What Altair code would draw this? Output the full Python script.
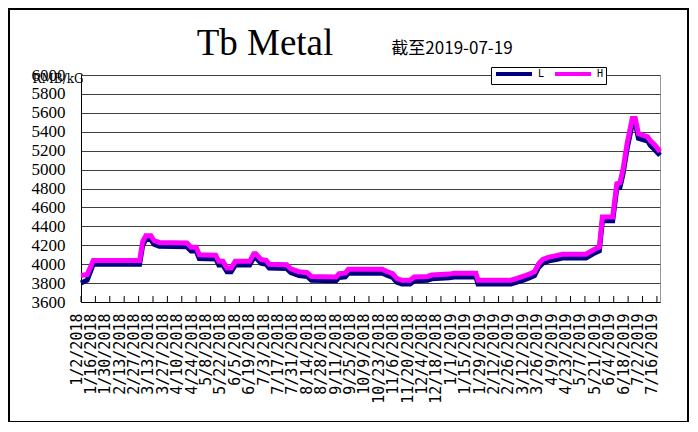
import altair as alt
import pandas as pd

# ---- data ----
dates = [
    "2018-01-02", "2018-01-08", "2018-01-14", "2018-02-28", "2018-03-03", "2018-03-06",
    "2018-03-11", "2018-03-14", "2018-03-19", "2018-04-15", "2018-04-19", "2018-04-24",
    "2018-04-27", "2018-05-13", "2018-05-16", "2018-05-20", "2018-05-24", "2018-05-28",
    "2018-06-01", "2018-06-15", "2018-06-19", "2018-06-21", "2018-06-26", "2018-07-01",
    "2018-07-04", "2018-07-21", "2018-07-25", "2018-08-02", "2018-08-10", "2018-08-14",
    "2018-09-07", "2018-09-10", "2018-09-16", "2018-09-19", "2018-10-22", "2018-10-27",
    "2018-11-01", "2018-11-05", "2018-11-10", "2018-11-18", "2018-11-22", "2018-12-05",
    "2018-12-09", "2018-12-26", "2018-12-31", "2019-01-21", "2019-01-23", "2019-02-24",
    "2019-03-02", "2019-03-09", "2019-03-15", "2019-03-19", "2019-03-23", "2019-03-27",
    "2019-04-02", "2019-04-09", "2019-04-15", "2019-05-08", "2019-05-15", "2019-05-21",
    "2019-05-24", "2019-06-03", "2019-06-07", "2019-06-10", "2019-06-13", "2019-06-17",
    "2019-06-22", "2019-06-25", "2019-06-28", "2019-07-07", "2019-07-10", "2019-07-14",
    "2019-07-19",
]
high = [
    3880, 3890, 4040, 4040, 4240, 4300,
    4300, 4250, 4230, 4225, 4180, 4180,
    4100, 4095, 4030, 4030, 3960, 3960,
    4030, 4030, 4110, 4110, 4050, 4040,
    4000, 3995, 3950, 3920, 3910, 3870,
    3865, 3900, 3905, 3945, 3945, 3920,
    3900, 3850, 3830, 3830, 3865, 3870,
    3885, 3895, 3905, 3905, 3830, 3830,
    3850, 3875, 3900, 3920, 4005, 4050,
    4075, 4090, 4105, 4105, 4150, 4180,
    4500, 4500, 4850, 4860, 5000, 5275,
    5540, 5540, 5380, 5345, 5300, 5260,
    5190,
]
low = [
    3800, 3830, 4000, 4000, 4200, 4260,
    4260, 4210, 4190, 4185, 4140, 4140,
    4060, 4055, 3990, 3990, 3920, 3920,
    3990, 3990, 4070, 4070, 4010, 4000,
    3960, 3955, 3910, 3880, 3870, 3830,
    3825, 3860, 3865, 3905, 3905, 3880,
    3860, 3810, 3790, 3790, 3825, 3830,
    3845, 3855, 3865, 3865, 3790, 3790,
    3810, 3835, 3860, 3880, 3965, 4010,
    4035, 4050, 4065, 4065, 4110, 4140,
    4460, 4460, 4800, 4810, 4950, 5220,
    5480, 5490, 5330, 5300, 5250, 5210,
    5150,
]
series_names = ["L", "H"]
series_colors = ["#000080", "#FF00FF"]

tick_labels = [
    "1/2/2018", "1/16/2018", "1/30/2018", "2/13/2018", "2/27/2018", "3/13/2018",
    "3/27/2018", "4/10/2018", "4/24/2018", "5/8/2018", "5/22/2018", "6/5/2018",
    "6/19/2018", "7/3/2018", "7/17/2018", "7/31/2018", "8/14/2018", "8/28/2018",
    "9/11/2018", "9/25/2018", "10/9/2018", "10/23/2018", "11/6/2018", "11/20/2018",
    "12/4/2018", "12/18/2018", "1/1/2019", "1/15/2019", "1/29/2019", "2/12/2019",
    "2/26/2019", "3/12/2019", "3/26/2019", "4/9/2019", "4/23/2019", "5/7/2019",
    "5/21/2019", "6/4/2019", "6/18/2019", "7/2/2019", "7/16/2019",
]
y_ticks = [3600, 3800, 4000, 4200, 4400, 4600, 4800, 5000, 5200, 5400, 5600, 5800, 6000]

title_text = "Tb Metal"
subtitle_text = "截至2019-07-19"
unit_text = "RMB/kG"

# ---- tables ----
df = pd.DataFrame({
    "date": list(pd.to_datetime(dates)) * 2,
    "value": low + high,
    "series": ["L"] * len(low) + ["H"] * len(high),
})
tick_dt = pd.to_datetime(tick_labels, format="%m/%d/%Y")
ticks_df = pd.DataFrame({"tick": tick_dt})
tick_values = [alt.DateTime(year=int(d.year), month=int(d.month), date=int(d.day)) for d in tick_dt]

W, H = 579, 227

x_scale = alt.Scale(domain=[alt.DateTime(year=2018, month=1, date=2),
                            alt.DateTime(year=2019, month=7, date=19)])
x_axis = alt.Axis(values=tick_values, format="%-m/%-d/%Y", labelAngle=270,
                  labelFont="DejaVu Sans Mono", labelFontSize=15, labelColor="black",
                  labelPadding=11, labelOffset=-5, labelOverlap=False, ticks=False,
                  grid=False, domainColor="black", title=None, labelFlush=False)
y_scale = alt.Scale(domain=[3600, 6000], nice=False, zero=False)
y_axis = alt.Axis(values=y_ticks, format="d", labelFont="Liberation Serif", labelFontSize=17,
                  labelColor="black", labelPadding=16, ticks=False, grid=True,
                  gridColor="#404040", gridWidth=1, domainColor="black",
                  title=unit_text, titleAngle=0, titleX=-49, titleY=3,
                  titleAlign="left", titleBaseline="middle", titleFont="DejaVu Serif",
                  titleFontSize=12, titleFontWeight="normal", titleColor="black")

color = alt.Color("series:N",
                  scale=alt.Scale(domain=series_names, range=series_colors),
                  legend=alt.Legend(orient="none", legendX=410, legendY=-8,
                                    direction="horizontal", title=None,
                                    symbolType="M-1,0H17", symbolSize=16,
                                    symbolStrokeWidth=4, symbolOffset=0,
                                    labelFont="DejaVu Sans Mono",
                                    labelFontSize=10, labelColor="black",
                                    strokeColor="black", fillColor="white",
                                    padding=2, columnPadding=2, labelOffset=35))

base = alt.Chart(df)
line_l = base.transform_filter(alt.datum.series == "L").mark_line(strokeWidth=5).encode(
    x=alt.X("date:T", scale=x_scale, axis=x_axis),
    y=alt.Y("value:Q", scale=y_scale, axis=y_axis),
    color=color,
)
line_h = base.transform_filter(alt.datum.series == "H").mark_line(strokeWidth=5).encode(
    x=alt.X("date:T", scale=x_scale, axis=x_axis),
    y=alt.Y("value:Q", scale=y_scale, axis=y_axis),
    color=color,
)
tick_marks = alt.Chart(ticks_df).mark_rule(color="black", strokeWidth=1).encode(
    x=alt.X("tick:T", scale=x_scale, axis=x_axis),
    y=alt.value(H),
    y2=alt.value(H - 6),
)
frame = alt.Chart(pd.DataFrame({"k": [0]})).mark_rect(
    fillOpacity=0, stroke="black", strokeWidth=2
).encode(x=alt.value(-72), x2=alt.value(607), y=alt.value(-66), y2=alt.value(347))

title = alt.Chart(pd.DataFrame({"t": [title_text]})).mark_text(
    font="Liberation Serif", fontSize=37, color="black", align="center", baseline="alphabetic"
).encode(text="t:N", x=alt.value(184), y=alt.value(-20))
subtitle = alt.Chart(pd.DataFrame({"t": [subtitle_text]})).mark_text(
    font="Noto Sans CJK SC", fontSize=17, color="black", align="center", baseline="alphabetic"
).encode(text="t:N", x=alt.value(371), y=alt.value(-21))

chart = alt.layer(frame, line_l, line_h, tick_marks, title, subtitle).properties(
    width=W, height=H,
    autosize=alt.AutoSizeParams(type="none"),
    padding={"left": 73, "top": 67, "right": 30, "bottom": 120},
    background="white",
).configure_view(stroke="#999999", strokeWidth=1)

chart.save("out.html", embed_options={"renderer": "svg", "actions": False})
